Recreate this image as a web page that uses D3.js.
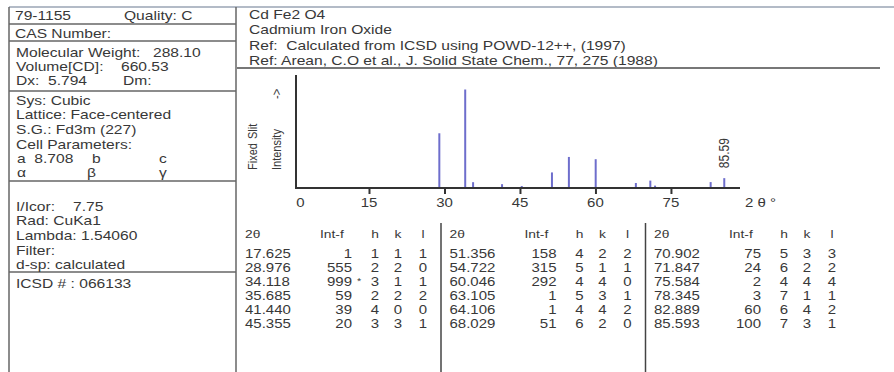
<!DOCTYPE html>
<html>
<head>
<meta charset="utf-8">
<script src="https://cdn.jsdelivr.net/npm/d3@7"></script>
<style>
  body { margin: 0; background: #fff; }
  svg text { font-family: "Liberation Sans", Arial, sans-serif; fill: #383838; white-space: pre; }
</style>
</head>
<body>
<div id="card"></div>
<script>
// Peak list for Cd Fe2 O4 (79-1155)
const peakTheta = [17.625, 28.976, 34.118, 35.685, 41.440, 45.355,
                   51.356, 54.722, 60.046, 63.105, 64.106, 68.029,
                   70.902, 71.847, 75.584, 78.345, 82.889, 85.593];
const peakInt = [1, 555, 999, 59, 39, 20, 158, 315, 292, 1, 1, 51, 75, 24, 2, 3, 60, 100];
const millerH = [1, 2, 3, 2, 4, 3, 4, 5, 4, 5, 4, 6, 5, 6, 4, 7, 6, 7];
const millerK = [1, 2, 1, 2, 0, 3, 2, 1, 4, 3, 4, 2, 3, 2, 4, 1, 4, 3];
const millerL = [1, 0, 1, 2, 0, 1, 2, 1, 0, 1, 2, 0, 3, 2, 4, 1, 2, 1];
const xTicks = [0, 15, 30, 45, 60, 75];
const labelledPeak = "85.59";

const headerLines = ["Cd Fe2 O4", "Cadmium Iron Oxide",
                     "Ref:  Calculated from ICSD using POWD-12++, (1997)",
                     "Ref: Arean, C.O et al., J. Solid State Chem., 77, 275 (1988)"];

const W = 894, H = 372;
const SX = 1.2; // the card is a bit wider than the font
const svg = d3.select("#card").append("svg").attr("width", W).attr("height", H);

function txt(x, y, s, size, anchor) {
    return svg.append("text")
        .attr("transform", `translate(${x},${y}) scale(${SX},1)`)
        .attr("font-size", size || 13)
        .attr("text-anchor", anchor || "start")
        .text(s);
}
function line(x1, y1, x2, y2, color, w) {
    svg.append("line").attr("x1", x1).attr("y1", y1).attr("x2", x2).attr("y2", y2)
        .attr("stroke", color).attr("stroke-width", w);
}

// frame
line(9, 7, W, 7, "#9aa4b4", 1.5);
line(9, 7, 9, H, "#666", 1.5);
line(236, 7, 236, H, "#666", 1.5);
[24, 41, 91, 181, 272].forEach(y => line(9, y, 236, y, "#666", 1.5));

// left panel
const lx = 15;
txt(lx, 20, "79-1155"); txt(124, 20, "Quality: C");
txt(lx, 38, "CAS Number:");
txt(lx + 1, 57, "Molecular Weight:"); txt(153, 57, "288.10");
txt(lx + 1, 71, "Volume[CD]:"); txt(121, 71, "660.53");
txt(lx + 1, 85, "Dx:  5.794"); txt(123, 85, "Dm:");
txt(lx + 1, 105, "Sys: Cubic");
txt(lx + 1, 119, "Lattice: Face-centered");
txt(lx + 1, 134, "S.G.: Fd3m (227)");
txt(lx + 1, 149, "Cell Parameters:");
txt(lx + 2, 163, "a  8.708"); txt(92, 163, "b"); txt(159, 163, "c");
txt(lx + 2, 177, "α"); txt(87, 177, "β"); txt(159, 177, "γ");
txt(lx + 1, 211, "I/Icor:"); txt(73, 211, "7.75");
txt(lx + 1, 225, "Rad: CuKa1");
txt(lx + 1, 240, "Lambda: 1.54060");
txt(lx + 1, 255, "Filter:");
txt(lx + 1, 269, "d-sp: calculated");
txt(lx + 1, 288, "ICSD # : 066133");

// right header
headerLines.forEach((s, i) => txt(249, 19 + i * 15.3, s));
line(237, 68, 880, 68, "#777", 2);

// stick pattern
const x = d3.scaleLinear().domain([0, 88.8]).range([293.5, 740.4]);
const y = d3.scaleLinear().domain([0, 999]).range([188, 89.5]);

svg.append("g").selectAll("line.peak")
    .data(peakTheta)
    .join("line")
    .attr("class", "peak")
    .attr("x1", d => x(d)).attr("x2", d => x(d))
    .attr("y1", y(0))
    .attr("y2", (d, i) => y(peakInt[i]))
    .attr("stroke", "#6e6ecc")
    .attr("stroke-width", 2);

const axis = svg.append("g")
    .attr("transform", `translate(0,${y(0)})`)
    .call(d3.axisBottom(x).tickValues(xTicks).tickSize(6).tickFormat(""));
axis.select(".domain").remove();
axis.selectAll(".tick line").attr("stroke", "#333").attr("stroke-width", 2)
    .filter(d => d === 0).remove();
xTicks.forEach(t => txt(x(t) + (t === 0 ? 7 : 0), 207, String(t), 12.5, "middle"));
txt(745, 207, "2 θ °", 12.5);

line(296, y(0), 740, y(0), "#333", 2);
line(296, 75, 296, y(0) + 1, "#333", 2);

// y label
function vtxt(cx, y0, s, size) {
    svg.append("text")
        .attr("transform", `translate(${cx},${y0}) scale(${SX},1) rotate(-90)`)
        .attr("font-size", size).text(s);
}
vtxt(257, 170, "Fixed", 11);
vtxt(257, 139, "Slit", 11);
vtxt(281, 170, "Intensity", 11);
vtxt(281, 99, "->", 11);

// label on last peak
const last = peakTheta.length - 1;
vtxt(x(peakTheta[last]) + 4.5, y(peakInt[last]) - 10, labelledPeak, 12);

// table
const colStep = 204.5, base0 = 237, rowsPerCol = 6;
[0, 1].forEach(c => line(base0 + (c + 1) * colStep - 0.5, 223, base0 + (c + 1) * colStep - 0.5, H, "#444", 1.5));
[0, 1, 2].forEach(c => {
    const b = base0 + c * colStep;
    txt(b + 8, 238, "2θ", 11.5);
    txt(b + 83, 238, "Int-f", 11.5);
    txt(b + 138, 238, "h", 11.5, "middle");
    txt(b + 161, 238, "k", 11.5, "middle");
    txt(b + 186, 238, "l", 11.5, "middle");
});
peakTheta.forEach((t, i) => {
    const c = Math.floor(i / rowsPerCol), r = i % rowsPerCol;
    const b = base0 + c * colStep, yy = 258 + r * 14;
    txt(b + 8, yy, t.toFixed(3), 12.5);
    txt(b + 115, yy, String(peakInt[i]), 12.5, "end");
    if (peakInt[i] === d3.max(peakInt)) txt(b + 120, yy - 2, "*", 9);
    txt(b + 138, yy, String(millerH[i]), 12.5, "middle");
    txt(b + 161, yy, String(millerK[i]), 12.5, "middle");
    txt(b + 186, yy, String(millerL[i]), 12.5, "middle");
});
</script>
</body>
</html>
